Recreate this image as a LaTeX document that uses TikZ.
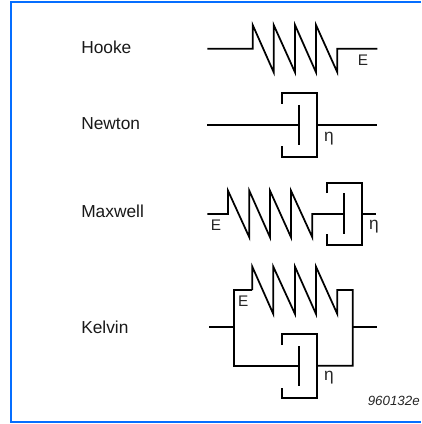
\documentclass[tikz,border=0pt]{standalone}
\usepackage{fontspec}
\setmainfont{Liberation Sans}
\definecolor{frameblue}{RGB}{5,110,255}
\tikzset{x=0.75pt,y=-0.75pt,
  lab/.style={inner sep=0,font=\fontsize{13pt}{15pt}\selectfont,text=black!90},
  sym/.style={inner sep=0,font=\fontsize{11.5pt}{14pt}\selectfont,text=black!85},
  eta/.style={inner sep=0,font=\fontsize{13pt}{15pt}\selectfont,text=black!85},
  el/.style={draw=black,line width=1.3pt,line join=miter,line cap=butt}}
\begin{document}
\begin{tikzpicture}
\useasboundingbox (0,0) rectangle (421,424);
\fill[white] (0,0) rectangle (421,424);
\draw[frameblue,line width=1.7pt] (421,1.8) -- (11,1.8) -- (11,421.7) -- (421,421.7);
\node[lab,anchor=base west] (hooke) at (81,53.5) {Hooke};
\node[lab,anchor=base west] (newton) at (81,130) {Newton};
\node[lab,anchor=base west] (maxwell) at (81,217.5) {Maxwell};
\node[lab,anchor=base west] (kelvin) at (81,333.3) {Kelvin};
% Hooke
\draw[el] (207.3,48.7) -- (252.7,48.7) -- (252.7,25) -- (273.7,72.3) -- (273.7,25) -- (295,72.3) -- (295,25) -- (316,72.3) -- (316,25) -- (337.3,72.3) -- (337.3,48.7) -- (377.3,48.7);
\node[sym] (e1) at (363,60) {E};
% Newton
\draw[el] (207.3,125) -- (299.3,125);
\draw[el] (299.3,105) -- (299.3,145);
\draw[el] (282,104) -- (282,93) -- (316.7,93) -- (316.7,156.7) -- (282,156.7) -- (282,146);
\draw[el] (316.7,125) -- (377.3,125);
\node[eta] (n1) at (329,139) {η};
% Maxwell
\draw[el] (207.3,214) -- (228,214) -- (228,190.7) -- (249.3,237.3) -- (249.3,190.7) -- (270,237.3) -- (270,190.7) -- (291,237.3) -- (291,190.7) -- (312.3,237.3) -- (312.3,214) -- (344.3,214);
\draw[el] (344.3,193.3) -- (344.3,234);
\draw[el] (327,193) -- (327,182.7) -- (361.7,182.7) -- (361.7,245) -- (327,245) -- (327,234);
\draw[el] (361.7,214) -- (376,214);
\node[sym] (e2) at (216,225) {E};
\node[eta] (n2) at (374,227) {η};
% Kelvin
\draw[el] (209,327.3) -- (234.3,327.3);
\draw[el] (252.3,290) -- (234.3,290) -- (234.3,365.7) -- (299.3,365.7);
\draw[el] (252.3,290) -- (252.3,266.7) -- (273.3,314) -- (273.3,266.7) -- (295,314) -- (295,266.7) -- (316,314) -- (316,266.7) -- (337.3,314) -- (337.3,290) -- (352.7,290) -- (352.7,365.7) -- (316.7,365.7);
\draw[el] (352.7,327.3) -- (376.7,327.3);
\draw[el] (299.3,346) -- (299.3,386);
\draw[el] (282.3,345) -- (282.3,334.3) -- (316.7,334.3) -- (316.7,397.7) -- (282.3,397.7) -- (282.3,388);
\node[sym] (e3) at (243.3,301.7) {E};
\node[eta] (n3) at (329,378) {η};
\node[inner sep=0,anchor=east,font=\itshape\fontsize{10pt}{12pt}\selectfont,text=black!85] (id) at (420,400.7) {960132e};
\end{tikzpicture}
\end{document}
